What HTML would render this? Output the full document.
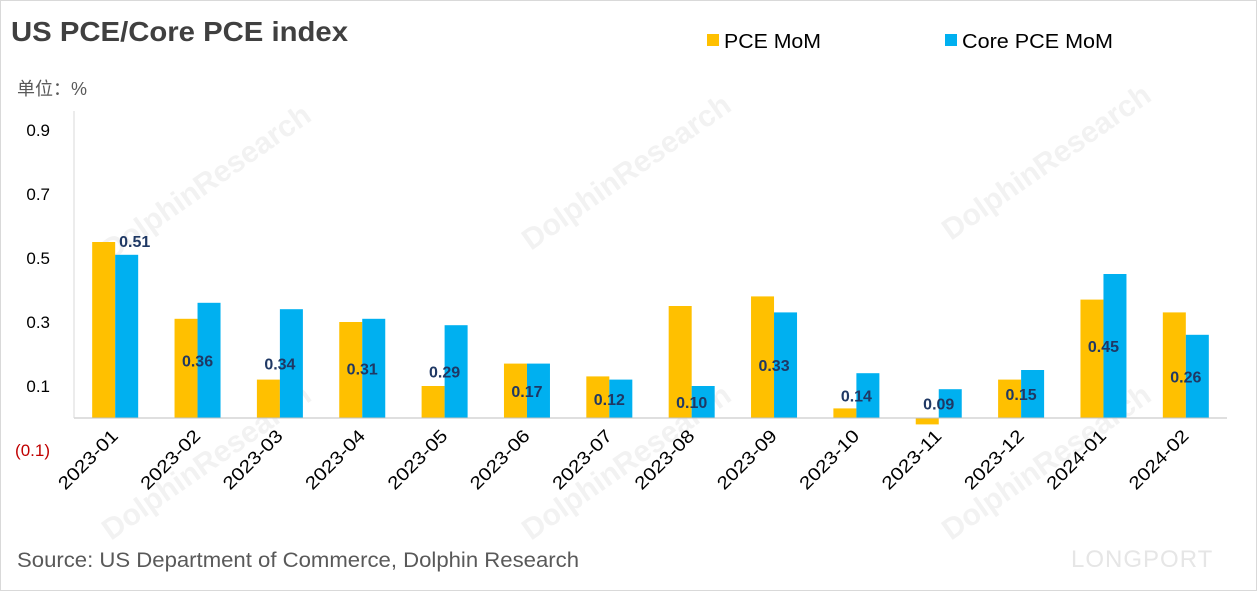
<!DOCTYPE html>
<html><head><meta charset="utf-8"><style>
body{margin:0;background:#fff;}
#wrap{position:relative;width:1255px;height:589px;border:1px solid #d9d9d9;background:#fff;font-family:"Liberation Sans","Noto Sans CJK SC",sans-serif;overflow:hidden}
</style></head><body>
<div id="wrap">
<svg id="chart" width="1257" height="591"></svg>
</div>
<script>
const categories=["2023-01","2023-02","2023-03","2023-04","2023-05","2023-06","2023-07","2023-08","2023-09","2023-10","2023-11","2023-12","2024-01","2024-02"];
const pceValues=[0.55,0.31,0.12,0.30,0.10,0.17,0.13,0.35,0.38,0.03,-0.02,0.12,0.37,0.33];
const coreValues=[0.51,0.36,0.34,0.31,0.29,0.17,0.12,0.10,0.33,0.14,0.09,0.15,0.45,0.26];
const coreLabels=["0.51","0.36","0.34","0.31","0.29","0.17","0.12","0.10","0.33","0.14","0.09","0.15","0.45","0.26"];
const yTicks=[0.9,0.7,0.5,0.3,0.1,-0.1];
const yTickLabels=["0.9","0.7","0.5","0.3","0.1","(0.1)"];

const svg=document.getElementById('chart');
const NS='http://www.w3.org/2000/svg';
function mk(tag,attrs,text){const e=document.createElementNS(NS,tag);for(const k in attrs)e.setAttribute(k,attrs[k]);if(text!==undefined)e.textContent=text;svg.appendChild(e);return e;}
const x0=73,x1=1226,zeroY=417,pxPerUnit=320;
const band=(x1-x0)/categories.length;
const y=v=>zeroY-v*pxPerUnit;
const xc=i=>x0+band*(i+0.5);
const bw=23;

[[110,260],[530,250],[950,240],[110,540],[530,540],[950,540]].forEach(p=>{
 const t=mk('text',{x:p[0],y:p[1],transform:`rotate(-35 ${p[0]} ${p[1]})`,'font-size':30,'font-weight':'bold',fill:'#f2f2f2'},'DolphinResearch');
 
 
});

let t=mk('text',{x:10,y:40,'font-size':28,'font-weight':'bold',fill:'#404040',textLength:337,lengthAdjust:'spacingAndGlyphs'},'US PCE/Core PCE index');


t=mk('text',{x:16,y:94,'font-size':18,fill:'#595959'},'单位：%');



let r=mk('rect',{x:706,y:33,width:12,height:12,fill:'#FFC000'});


t=mk('text',{x:723,y:47,'font-size':20,fill:'#000',textLength:97,lengthAdjust:'spacingAndGlyphs'},'PCE MoM');


r=mk('rect',{x:944,y:33,width:12,height:12,fill:'#00B0F0'});


t=mk('text',{x:961,y:47,'font-size':20,fill:'#000',textLength:151,lengthAdjust:'spacingAndGlyphs'},'Core PCE MoM');



yTicks.forEach((v,i)=>{
 const tt=mk('text',{x:49,y:y(v)+6,'font-size':17,'text-anchor':'end',fill:v<0?'#c00000':'#000'},yTickLabels[i]);
 
 
});

categories.forEach((c,i)=>{
 const cx=xc(i);
 const pv=pceValues[i],cv=coreValues[i];
 const b1=mk('rect',{x:cx-bw,y:Math.min(y(pv),zeroY),width:bw,height:Math.abs(y(pv)-zeroY),fill:'#FFC000'});
 
 
 const b2=mk('rect',{x:cx,y:Math.min(y(cv),zeroY),width:bw,height:Math.abs(y(cv)-zeroY),fill:'#00B0F0'});
 
 
 const ly=i===0?y(cv)-8:(y(cv)+zeroY)/2+6;
 const lx=i===0?cx+bw/2+8:cx;
 const l=mk('text',{x:lx,y:ly,'font-size':16,'font-weight':'bold','text-anchor':'middle',fill:'#1f3864'},coreLabels[i]);
 
 
 const tx=cx+4,ty=436;
 const xl=mk('text',{x:tx,y:ty,'font-size':18,'text-anchor':'end',fill:'#000',transform:`rotate(-45 ${tx} ${ty})`,textLength:76,lengthAdjust:'spacingAndGlyphs'},c);
 
 
});

let a=mk('line',{x1:x0,y1:zeroY,x2:x1,y2:zeroY,stroke:'#bfbfbf','stroke-width':1});


a=mk('line',{x1:x0,y1:110,x2:x0,y2:zeroY,stroke:'#d9d9d9','stroke-width':1});



t=mk('text',{x:16,y:566,'font-size':21,fill:'#595959',textLength:562,lengthAdjust:'spacingAndGlyphs'},'Source: US Department of Commerce, Dolphin Research');


t=mk('text',{x:1070,y:566,'font-size':24,fill:'#e6e6e6','letter-spacing':1},'LONGPORT');


</script>
</body></html>
